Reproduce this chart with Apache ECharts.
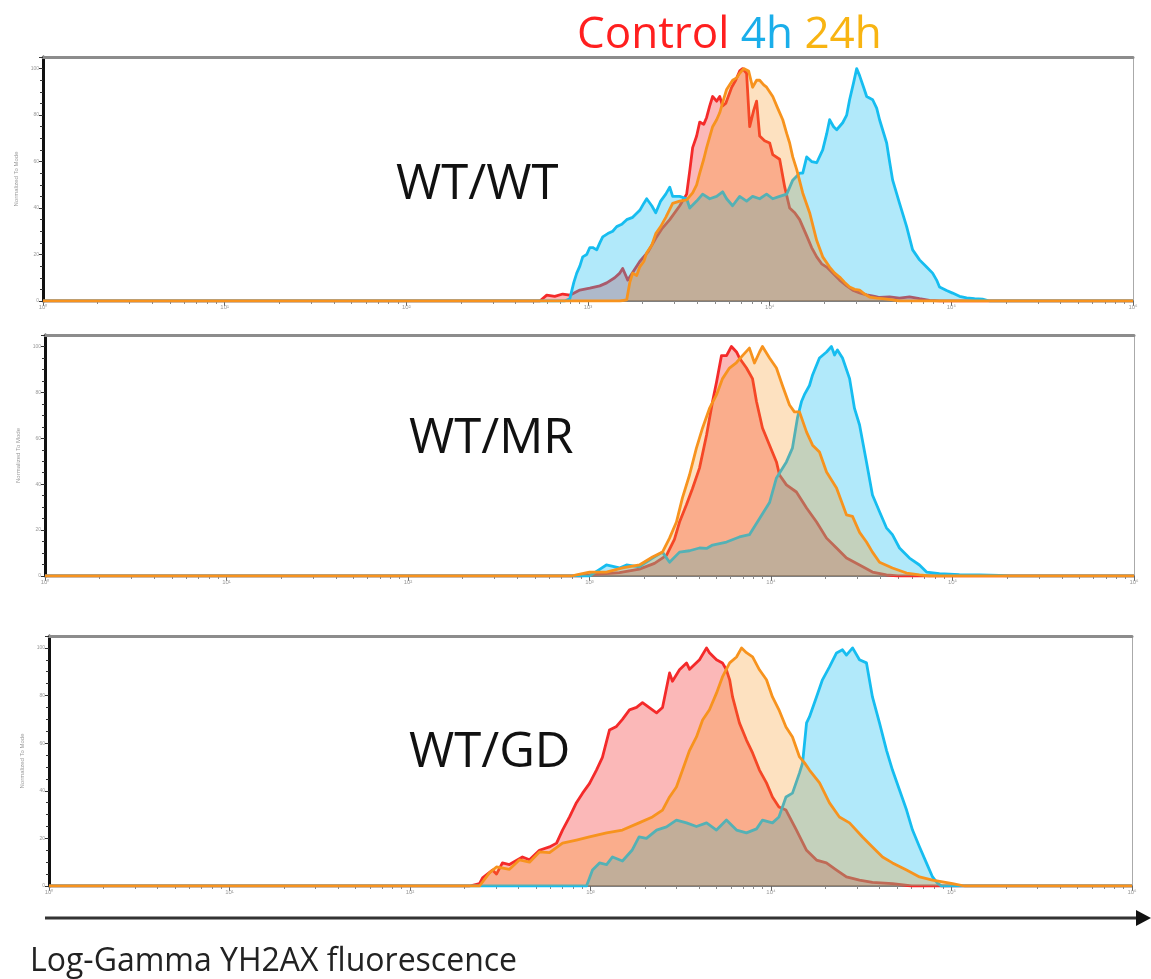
<!DOCTYPE html>
<html><head><meta charset="utf-8">
<script src="https://cdn.jsdelivr.net/npm/echarts@6/dist/echarts.min.js"></script>
<style>html,body{margin:0;padding:0;background:#fff}#c{width:1151px;height:979px}</style>
</head><body><div id="c"></div>
<script>
// ---------- data (x = log10 fluorescence, y = % of mode) ----------
const DECADES = [0, 1, 2, 3, 4, 5, 6];
const DECADE_LABELS = ['10⁰', '10¹', '10²', '10³', '10⁴', '10⁵', '10⁶'];
const Y_TICKS = [0, 20, 40, 60, 80, 100];
const LEGEND_NAMES = ['Control', '4h', '24h'];
const PANEL_NAMES = ['WT/WT', 'WT/MR', 'WT/GD'];

const wtwtControl = [[2.735,0],[2.773,2.5],[2.817,2],[2.861,3],[2.900,2.5],[2.955,4.7],[3.010,5.5],[3.065,6.5],[3.103,7.8],[3.147,10],[3.175,12],[3.191,14],[3.219,9],[3.252,13],[3.285,17],[3.329,21],[3.373,27],[3.406,31],[3.450,35],[3.505,41],[3.543,46],[3.560,56],[3.576,66],[3.598,71],[3.615,77],[3.637,76],[3.653,79],[3.670,84],[3.686,88],[3.708,86],[3.725,88],[3.741,84],[3.758,85],[3.791,92],[3.813,95],[3.835,99],[3.851,100],[3.873,98],[3.890,75],[3.912,82],[3.928,86],[3.945,71],[3.972,69],[4.000,68],[4.017,63],[4.055,61],[4.083,49],[4.110,40],[4.138,38],[4.165,35],[4.204,28],[4.231,23],[4.259,19],[4.286,16],[4.314,14.6],[4.347,12],[4.385,9],[4.424,6.5],[4.457,4.7],[4.495,3.5],[4.534,2.6],[4.578,2],[4.605,1.5],[4.660,1.8],[4.715,1.2],[4.770,1.8],[4.825,1],[4.880,0.3],[4.935,0]];
const wtwt4h = [[2.872,0],[2.900,1],[2.922,8],[2.938,12],[2.955,15],[2.971,19],[2.993,20],[3.010,23],[3.026,23],[3.048,22],[3.065,25],[3.081,27.6],[3.109,29],[3.136,30],[3.158,32],[3.186,33],[3.213,35],[3.246,36],[3.285,39],[3.307,42],[3.323,44],[3.351,41],[3.373,38],[3.400,43],[3.428,46],[3.450,49],[3.466,45],[3.505,45],[3.543,44],[3.560,40],[3.598,43],[3.631,46],[3.670,44],[3.708,45],[3.741,47],[3.763,44],[3.796,41],[3.835,45],[3.873,43],[3.906,45],[3.945,44],[3.983,46],[4.017,44],[4.055,45],[4.094,46],[4.127,52],[4.165,55],[4.182,55],[4.204,62],[4.231,60],[4.259,59.5],[4.292,65],[4.314,72],[4.330,78],[4.352,75],[4.369,73.7],[4.402,76.7],[4.424,80],[4.440,86.6],[4.462,94],[4.479,100],[4.495,97],[4.517,92],[4.534,88],[4.567,86.6],[4.589,83],[4.605,78],[4.644,68],[4.660,60],[4.677,52],[4.715,42],[4.754,32],[4.787,22],[4.825,17.7],[4.864,14.6],[4.897,12],[4.919,9],[4.935,6],[4.974,4.5],[5.007,3.4],[5.045,2],[5.084,1.3],[5.128,1],[5.172,0.8],[5.210,0]];
const wtwt24h = [[3.175,0],[3.213,0.5],[3.230,8],[3.246,12],[3.268,11],[3.285,14.7],[3.307,17],[3.323,20.7],[3.351,24],[3.373,29],[3.400,32],[3.428,36],[3.466,42],[3.505,43],[3.543,43.5],[3.576,46.5],[3.598,50],[3.615,55],[3.637,61],[3.653,66],[3.686,75],[3.708,78],[3.725,81],[3.747,87],[3.763,91],[3.796,95],[3.818,96],[3.835,98],[3.857,100],[3.884,99],[3.906,92],[3.928,95],[3.945,95],[3.967,93],[3.983,92],[4.017,88],[4.044,83],[4.072,78],[4.094,72],[4.110,68],[4.127,62],[4.149,56.5],[4.182,46.5],[4.220,38],[4.259,26],[4.292,19],[4.330,14.6],[4.358,12],[4.385,10.3],[4.413,8],[4.440,6],[4.468,5],[4.495,4.7],[4.523,3],[4.550,1.7],[4.589,1.2],[4.622,1],[4.677,0.5],[4.715,0]];

const wtmrControl = [[2.950,0],[3.000,0.5],[3.165,1.5],[3.275,3],[3.358,5.5],[3.424,9],[3.468,16],[3.496,23.5],[3.534,31],[3.567,38],[3.606,47],[3.645,61.4],[3.678,76],[3.700,84.5],[3.727,96],[3.755,96],[3.782,100],[3.810,97.6],[3.826,95],[3.865,90.6],[3.898,86],[3.920,76],[3.953,64.5],[3.992,57],[4.030,49.7],[4.047,44],[4.085,39.7],[4.140,36.6],[4.196,29.6],[4.251,23.5],[4.306,16.5],[4.361,12.2],[4.416,7.8],[4.488,4.8],[4.559,1.7],[4.636,0.5],[4.700,0]];
const wtmr4h = [[3.000,0],[3.058,3],[3.093,4.8],[3.165,3.5],[3.204,4.8],[3.275,4],[3.292,5],[3.347,7.8],[3.402,10.4],[3.441,6],[3.496,10.4],[3.551,11],[3.606,12.2],[3.645,12],[3.678,13.5],[3.755,14.8],[3.826,17],[3.881,18],[3.937,25],[3.992,32],[4.030,42.7],[4.085,49.7],[4.118,55.7],[4.146,69],[4.168,76],[4.184,79],[4.212,83],[4.229,87.6],[4.267,95],[4.306,97.6],[4.333,100],[4.350,96.3],[4.366,98.5],[4.394,95],[4.433,86],[4.460,73],[4.488,65.8],[4.526,49.7],[4.559,35.3],[4.598,28],[4.636,21],[4.669,18],[4.708,12.2],[4.763,7.8],[4.818,4.8],[4.857,1.7],[4.928,1],[5.038,0.6],[5.148,0.5],[5.259,0.3],[5.314,0]];
const wtmr24h = [[2.900,0],[2.928,0.5],[3.000,1.7],[3.093,1.7],[3.182,3.5],[3.275,4.8],[3.347,8.3],[3.402,10.4],[3.441,16.5],[3.479,23.5],[3.512,34],[3.551,44],[3.589,55.7],[3.623,64.5],[3.661,73],[3.700,79],[3.733,86],[3.771,90.6],[3.810,93],[3.843,96],[3.881,99.3],[3.909,92.8],[3.937,97.6],[3.953,100],[3.992,95],[4.030,90.6],[4.063,83],[4.102,74.5],[4.129,71.5],[4.157,71.5],[4.196,62.7],[4.229,57],[4.267,54],[4.306,45.3],[4.361,38.3],[4.416,26.6],[4.449,26],[4.488,19],[4.526,14.8],[4.559,10.4],[4.598,6],[4.669,3.5],[4.747,1.3],[4.818,0.5],[4.873,0]];

const wtgdControl = [[2.330,0],[2.385,1],[2.402,3.4],[2.457,6.7],[2.479,5],[2.512,9.7],[2.551,9],[2.623,12.2],[2.662,11],[2.717,15],[2.773,16.4],[2.812,18],[2.845,23.5],[2.884,29],[2.922,35],[2.956,39],[2.994,43],[3.033,48.7],[3.066,54],[3.105,65.5],[3.144,67],[3.177,70],[3.216,74],[3.255,75],[3.288,77],[3.324,75],[3.366,72.7],[3.399,75],[3.438,89.5],[3.454,86],[3.493,90.8],[3.532,93.7],[3.549,91],[3.604,95],[3.643,100],[3.659,98],[3.698,95],[3.731,93.7],[3.753,90.8],[3.771,86.6],[3.787,79.4],[3.825,68.5],[3.864,61.3],[3.898,55.9],[3.936,48.7],[3.975,43.3],[4.008,37.4],[4.044,33.2],[4.083,31.9],[4.141,23.5],[4.197,15],[4.252,10.9],[4.307,9.7],[4.363,6.7],[4.418,3.8],[4.490,2.5],[4.562,1.5],[4.673,1],[4.780,0]];
const wtgd4h = [[2.978,0],[3.011,6.7],[3.050,9.7],[3.089,9],[3.122,12.2],[3.177,10.5],[3.230,15],[3.269,20.6],[3.310,20],[3.366,23.5],[3.421,24.8],[3.476,27.7],[3.532,26.5],[3.587,25],[3.643,26.5],[3.698,23.5],[3.753,27.7],[3.809,23.5],[3.864,22.3],[3.920,24],[3.953,27.7],[4.008,26.5],[4.044,29],[4.083,37.4],[4.119,39],[4.158,47.5],[4.175,51.7],[4.197,68.5],[4.213,71],[4.252,79.4],[4.285,86.6],[4.324,92],[4.363,97.9],[4.396,99.2],[4.418,97],[4.452,100],[4.490,95],[4.529,93.7],[4.562,79.4],[4.601,68.5],[4.640,57],[4.673,48.7],[4.712,40.3],[4.751,31.9],[4.784,23.5],[4.823,16.4],[4.861,9.7],[4.895,3.8],[4.922,1.2],[4.945,0]];
const wtgd24h = [[2.385,0],[2.440,5.5],[2.479,8],[2.551,7],[2.607,11],[2.662,10],[2.717,14.3],[2.773,14],[2.845,18],[2.922,19.3],[2.994,20.6],[3.089,22.3],[3.177,23.5],[3.269,26.5],[3.343,29],[3.399,31.9],[3.438,37.4],[3.476,41.6],[3.510,48.7],[3.549,57],[3.587,62.6],[3.621,69.7],[3.659,74],[3.698,81],[3.731,87.8],[3.771,93.7],[3.809,96.2],[3.837,100],[3.864,98],[3.898,96.2],[3.936,90.8],[3.975,86.6],[4.008,79.4],[4.044,74],[4.083,66.8],[4.119,62.6],[4.158,54.2],[4.186,51.7],[4.213,48.7],[4.269,43.3],[4.324,34.9],[4.379,29],[4.435,26.5],[4.507,20.6],[4.562,16.4],[4.618,12.2],[4.673,9.7],[4.751,6.7],[4.823,3.8],[4.895,2.5],[5.006,1],[5.072,0]];

const PANEL_DATA = [
  [wtwtControl, wtwt4h, wtwt24h],
  [wtmrControl, wtmr4h, wtmr24h],
  [wtgdControl, wtgd4h, wtgd24h]
];

// ---------- layout & style ----------
const GRIDS = [
  {left: 43, top: 57, width: 1090, height: 244},
  {left: 45, top: 335, width: 1089, height: 241},
  {left: 49, top: 636, width: 1083, height: 250}
];
const PANEL_LABEL_POS = [{left: 391, top: 156}, {left: 404, top: 410}, {left: 404, top: 724}];
const LINE_COLORS = ['#f42a2a', '#16bdf0', '#f7931e'];
const FILL_COLORS = ['rgba(244,42,42,0.48)', 'rgba(22,189,240,0.48)', 'rgba(247,147,30,0.40)'];
const X_MIN = DECADES[0], X_MAX = DECADES[DECADES.length - 1];

const minorTickValues = [];
for (let d = X_MIN; d < X_MAX; d++) for (let k = 2; k <= 9; k++) minorTickValues.push(d + Math.log10(k));

const chart = echarts.init(document.getElementById('c'), null, {renderer: 'canvas'});

const grid = [], xAxis = [], yAxis = [], series = [];
GRIDS.forEach((g, i) => {
  grid.push(Object.assign({show: false, containLabel: false}, g));
  xAxis.push({
    type: 'value', gridIndex: i, min: X_MIN, max: X_MAX, interval: 1, position: 'bottom',
    axisLine: {onZero: false, lineStyle: {color: '#555', width: 1.5}},
    axisTick: {show: true, length: 5, lineStyle: {color: '#666'}},
    axisLabel: {show: true, fontSize: 6, color: '#999', margin: 3, formatter: v => DECADE_LABELS[DECADES.indexOf(v)] || ''},
    splitLine: {show: false}
  });
  xAxis.push({
    type: 'value', gridIndex: i, min: X_MIN, max: X_MAX, position: 'bottom',
    axisLine: {show: false, onZero: false},
    axisTick: {show: true, length: 3, customValues: minorTickValues, lineStyle: {color: '#888'}},
    axisLabel: {show: false}, splitLine: {show: false}
  });
  xAxis.push({
    type: 'value', gridIndex: i, min: X_MIN, max: X_MAX, position: 'top',
    axisLine: {show: true, onZero: false, lineStyle: {color: '#8c8c8c', width: 3}},
    axisTick: {show: false}, axisLabel: {show: false}, splitLine: {show: false}
  });
  yAxis.push({
    type: 'value', gridIndex: i, min: 0, max: 105, interval: 20, position: 'left',
    name: 'Normalized To Mode', nameLocation: 'middle', nameGap: 24, nameRotate: 90,
    nameTextStyle: {fontSize: 6, color: '#9a9a9a'},
    axisLine: {show: true, onZero: false, lineStyle: {color: '#111', width: 3}},
    axisTick: {show: true, length: 4, lineStyle: {color: '#333'}},
    minorTick: {show: true, splitNumber: 4, length: 3, lineStyle: {color: '#333'}},
    axisLabel: {show: true, fontSize: 5, color: '#999', margin: 4, showMaxLabel: false,
      formatter: v => Y_TICKS.indexOf(v) >= 0 ? String(v) : ''},
    splitLine: {show: false}
  });
  yAxis.push({
    type: 'value', gridIndex: i, min: 0, max: 105, position: 'right',
    axisLine: {show: true, onZero: false, lineStyle: {color: '#aaa', width: 1}},
    axisTick: {show: false}, axisLabel: {show: false}, splitLine: {show: false}
  });
  PANEL_DATA[i].forEach((d, s) => {
    series.push({
      name: LEGEND_NAMES[s], type: 'line', xAxisIndex: i * 3, yAxisIndex: i * 2,
      z: 2 + s,
      data: [[X_MIN, 0]].concat(d, [[X_MAX, 0]]),
      symbol: 'none', showSymbol: false, smooth: false,
      lineStyle: {color: LINE_COLORS[s], width: 2.8, join: 'round'},
      areaStyle: {color: FILL_COLORS[s], origin: 'start'},
      itemStyle: {color: LINE_COLORS[s]},
      emphasis: {disabled: true}, silent: true
    });
  });
});

const title = [
  {
    text: '{r|' + LEGEND_NAMES[0] + '} {b|' + LEGEND_NAMES[1] + '} {o|' + LEGEND_NAMES[2] + '}',
    left: 572, top: 8,
    textStyle: {fontSize: 44, fontFamily: 'Open Sans', fontWeight: 'normal',
      rich: {
        r: {color: '#ff1f1f', fontSize: 44, fontFamily: 'Open Sans'},
        b: {color: '#1aaeea', fontSize: 44, fontFamily: 'Open Sans'},
        o: {color: '#f8b412', fontSize: 44, fontFamily: 'Open Sans'}
      }}
  },
  {
    text: 'Log-Gamma YH2AX fluorescence', left: 25, top: 941,
    textStyle: {fontSize: 32, fontFamily: 'Open Sans', fontWeight: 'normal', color: '#222'}
  }
];
PANEL_NAMES.forEach((n, i) => {
  title.push({text: n, left: PANEL_LABEL_POS[i].left, top: PANEL_LABEL_POS[i].top,
    textStyle: {fontSize: 49, fontFamily: 'Open Sans', fontWeight: 'normal', color: '#111'}});
});

chart.setOption({
  animation: false,
  backgroundColor: '#ffffff',
  title, grid, xAxis, yAxis, series,
  graphic: [
    {type: 'line', shape: {x1: 45, y1: 918, x2: 1140, y2: 918}, style: {stroke: '#333', lineWidth: 3}},
    {type: 'polygon', shape: {points: [[1136, 910], [1151, 918], [1136, 926]]}, style: {fill: '#111'}}
  ]
});
</script></body></html>
